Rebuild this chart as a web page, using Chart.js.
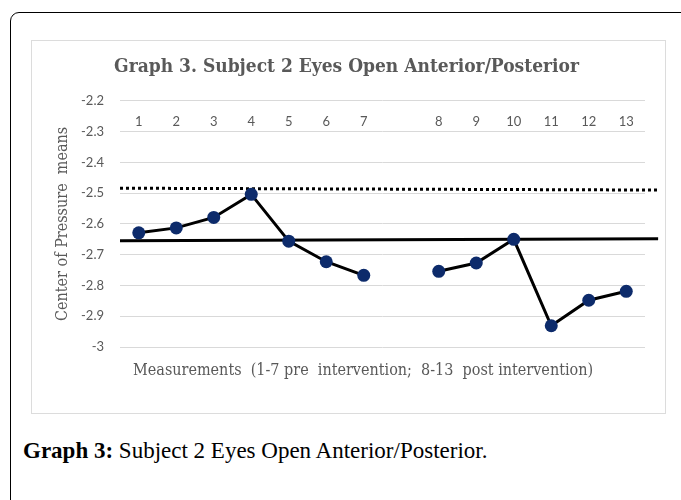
<!DOCTYPE html>
<html>
<head>
<meta charset="utf-8">
<title>Graph 3</title>
<script src="https://cdn.jsdelivr.net/npm/chart.js@4.4.1/dist/chart.umd.min.js"></script>
<style>
  body { margin: 0; background: #fff; width: 681px; height: 500px; overflow: hidden; position: relative; }
  .frame { position: absolute; left: 10px; top: 12px; width: 720px; height: 540px; border: 1.5px solid #000; border-top-left-radius: 9px; }
  .chart-box { position: absolute; left: 31px; top: 40px; width: 633px; height: 372px; border: 1px solid #dcdcdc; background: #fff; }
  .caption { position: absolute; left: 23px; top: 438px; font-family: "Liberation Serif", serif; font-size: 23px; line-height: 26px; color: #000; white-space: nowrap; }
</style>
</head>
<body>
<div class="frame"></div>
<div class="chart-box"><canvas id="copChart" width="633" height="372"></canvas></div>
<div class="caption"><b>Graph 3:</b> Subject 2 Eyes Open Anterior/Posterior.</div>

<script>
// measurement labels and where they sit on the x axis (slot 8 is left empty)
const measurements = ['1', '2', '3', '4', '5', '6', '7', '8', '9', '10', '11', '12', '13'];
const tickPositions = [0.5, 1.5, 2.5, 3.5, 4.5, 5.5, 6.5, 8.5, 9.5, 10.5, 11.5, 12.5, 13.5];

// center of pressure means
const preValues = [-2.629, -2.613, -2.579, -2.504, -2.656, -2.723, -2.767];
const postValues = [-2.754, -2.727, -2.650, -2.931, -2.848, -2.819];

// reference lines (drawn across the whole plot)
const refLineX = [0, 14.35];
const upperLine = [-2.484, -2.490];
const meanLine = [-2.655, -2.648];

const yTickValues = [-2.2, -2.3, -2.4, -2.5, -2.6, -2.7, -2.8, -2.9, -3];

const xTitle = 'Measurements  (1-7 pre  intervention;  8-13  post intervention)';

const toPoints = (xs, ys) => ys.map((y, i) => ({ x: xs[i], y: y }));

const grey = '#595959';
const dotColor = '#0d2b6b';
const serif = '"DejaVu Serif Condensed", "DejaVu Serif", serif';

const seriesStyle = {
  borderColor: '#000',
  borderWidth: 3,
  pointRadius: 6.5,
  pointBackgroundColor: dotColor,
  pointBorderColor: dotColor,
  pointBorderWidth: 0,
  tension: 0
};

// x axis title sits under the plot, a bit left of centre like the original
const axisTitlePlugin = {
  id: 'axisTitle',
  afterDraw(chart) {
    const { ctx, chartArea } = chart;
    ctx.save();
    ctx.font = '16px ' + serif;
    ctx.fillStyle = grey;
    ctx.textAlign = 'center';
    ctx.textBaseline = 'middle';
    ctx.fillText(xTitle, chartArea.left + chartArea.width * 0.463, chartArea.bottom + 24);
    ctx.restore();
  }
};

new Chart(document.getElementById('copChart'), {
  type: 'line',
  data: {
    datasets: [
      Object.assign({ label: 'Pre', data: toPoints(tickPositions.slice(0, 7), preValues) }, seriesStyle),
      Object.assign({ label: 'Post', data: toPoints(tickPositions.slice(7), postValues) }, seriesStyle),
      {
        label: 'Upper',
        data: toPoints(refLineX, upperLine),
        borderColor: '#000',
        borderWidth: 3,
        borderDash: [3, 3],
        pointRadius: 0,
        clip: false
      },
      {
        label: 'Mean',
        data: toPoints(refLineX, meanLine),
        borderColor: '#000',
        borderWidth: 3,
        pointRadius: 0,
        clip: false
      }
    ]
  },
  plugins: [axisTitlePlugin],
  options: {
    responsive: false,
    animation: false,
    events: [],
    layout: { padding: { left: 16, right: 20, top: 0, bottom: 66 } },
    plugins: {
      legend: { display: false },
      tooltip: { enabled: false },
      title: {
        display: true,
        text: 'Graph 3. Subject 2 Eyes Open Anterior/Posterior',
        color: grey,
        font: { family: serif, size: 19, weight: 'bold' },
        padding: { top: 15, bottom: 22 }
      }
    },
    scales: {
      x: {
        type: 'linear',
        min: 0,
        max: 14,
        position: { y: -2.2 },
        grid: { display: false },
        border: { display: false },
        afterBuildTicks: (scale) => {
          scale.ticks = tickPositions.map(v => ({ value: v }));
        },
        ticks: {
          color: grey,
          font: { family: 'Lato, sans-serif', size: 13 },
          padding: 5,
          maxRotation: 0,
          autoSkip: false,
          callback: (value, index) => measurements[index]
        }
      },
      y: {
        min: -3,
        max: -2.2,
        grid: { color: '#d9d9d9', lineWidth: 1, drawTicks: false },
        border: { display: false },
        afterBuildTicks: (scale) => {
          scale.ticks = yTickValues.map(v => ({ value: v }));
        },
        afterFit: (scale) => { scale.width = 72; },
        ticks: {
          color: grey,
          font: { family: 'Lato, sans-serif', size: 13 },
          padding: 16,
          callback: (value) => String(Number(value.toFixed(1)))
        },
        title: {
          display: true,
          text: 'Center of Pressure  means',
          color: grey,
          font: { family: serif, size: 16 },
          padding: { top: 5, bottom: 0 }
        }
      }
    }
  }
});
</script>
</body>
</html>
